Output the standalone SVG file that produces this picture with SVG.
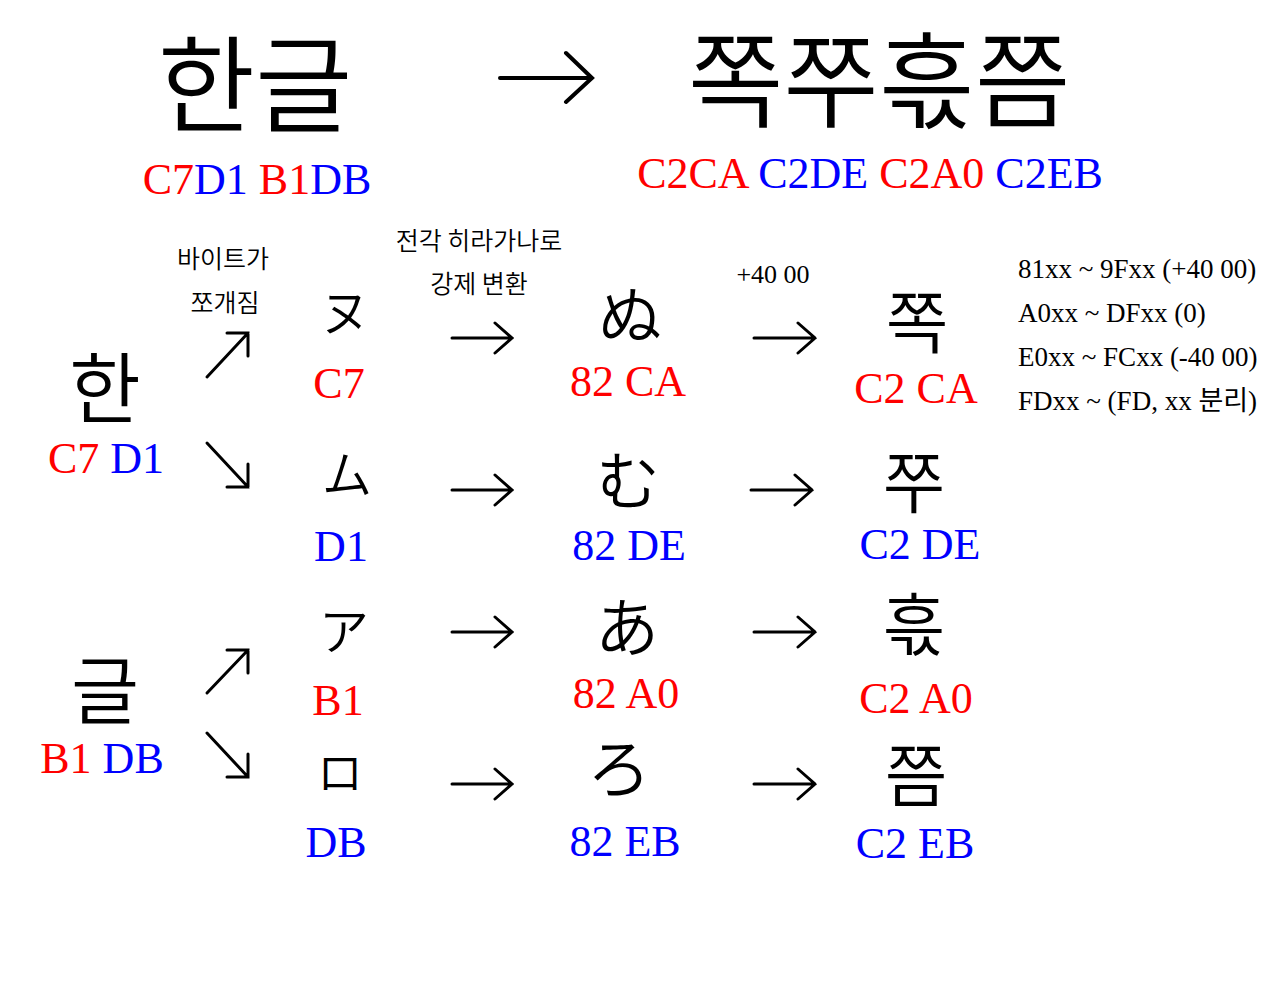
<svg xmlns="http://www.w3.org/2000/svg" width="1280" height="1000" viewBox="0 0 1280 1000">
<style>
.cjk{font-family:"Noto Sans CJK KR","Noto Sans CJK JP",sans-serif;font-weight:350;fill:#000;text-anchor:middle}
.lat{font-family:"Liberation Serif","Noto Sans CJK KR",serif;text-anchor:middle}
.hex{font-family:"Liberation Serif",serif;font-size:44px;text-anchor:middle}
.r{fill:#ff0000}
.b{fill:#0000ff}
.small{font-family:"Noto Sans CJK KR",sans-serif;font-size:25px;font-weight:350;fill:#000;text-anchor:middle}
.note{font-family:"Liberation Serif","Noto Sans CJK KR",serif;font-size:27px;fill:#000}
.arr{fill:none;stroke:#000;stroke-width:3;stroke-linecap:round;stroke-linejoin:miter}
.arrbig{fill:none;stroke:#000;stroke-width:4;stroke-linecap:round}
</style>
<rect width="1280" height="1000" fill="#fff"/>

<g id="title-source">
<text class="cjk" x="255" y="124" font-size="106">한글</text>
<text class="hex" x="257" y="194"><tspan class="r">C7</tspan><tspan class="b">D1</tspan> <tspan class="r">B1</tspan><tspan class="b">DB</tspan></text>
</g>
<g id="title-result">
<text class="cjk" x="879" y="120" font-size="104">쪽쭈흓쯤</text>
<text class="hex" x="870" y="188"><tspan class="r">C2CA</tspan> <tspan class="b">C2DE</tspan> <tspan class="r">C2A0</tspan> <tspan class="b">C2EB</tspan></text>
</g>

<g id="han">
<text class="cjk" x="105" y="418" font-size="78">한</text>
<text class="hex" x="106" y="473"><tspan class="r">C7</tspan> <tspan class="b">D1</tspan></text>
</g>
<g id="geul">
<text class="cjk" x="105" y="718" font-size="74">글</text>
<text class="hex" x="102" y="773"><tspan class="r">B1</tspan> <tspan class="b">DB</tspan></text>
</g>

<g id="labels">
<text class="small" x="223" y="268">바이트가</text>
<text class="small" x="225" y="312">쪼개짐</text>
<text class="small" x="479" y="250">전각 히라가나로</text>
<text class="small" x="479" y="293">강제 변환</text>
<text class="lat" x="773" y="283" font-size="26" fill="#000">+40 00</text>
</g>

<g id="kata-nu">
<text class="cjk" x="345" y="331" font-size="50">ヌ</text>
<text class="hex r" x="339" y="398">C7</text>
</g>
<g id="kata-mu">
<text class="cjk" x="347" y="493" font-size="50">ム</text>
<text class="hex b" x="341" y="561">D1</text>
</g>
<g id="kata-a">
<text class="cjk" x="344" y="650" font-size="50">ア</text>
<text class="hex r" x="338" y="715">B1</text>
</g>
<g id="kata-ro">
<text class="cjk" x="340" y="789" font-size="46">ロ</text>
<text class="hex b" x="336" y="857">DB</text>
</g>

<g id="hira-nu">
<text class="cjk" x="630" y="339" font-size="64">ぬ</text>
<text class="hex r" x="628" y="396">82 CA</text>
</g>
<g id="hira-mu">
<text class="cjk" x="628" y="504" font-size="64">む</text>
<text class="hex b" x="629" y="560">82 DE</text>
</g>
<g id="hira-a">
<text class="cjk" x="627" y="651" font-size="64">あ</text>
<text class="hex r" x="626" y="708">82 A0</text>
</g>
<g id="hira-ro">
<text class="cjk" x="619" y="792" font-size="64">ろ</text>
<text class="hex b" x="625" y="856">82 EB</text>
</g>

<g id="res-jjok">
<text class="cjk" x="917" y="348" font-size="68">쪽</text>
<text class="hex r" x="916" y="403">C2 CA</text>
</g>
<g id="res-jju">
<text class="cjk" x="914" y="508" font-size="68">쭈</text>
<text class="hex b" x="920" y="559">C2 DE</text>
</g>
<g id="res-heul">
<text class="cjk" x="914" y="650" font-size="68">흓</text>
<text class="hex r" x="916" y="713">C2 A0</text>
</g>
<g id="res-jjeum">
<text class="cjk" x="916" y="801" font-size="68">쯤</text>
<text class="hex b" x="915" y="858">C2 EB</text>
</g>

<g id="notes">
<text class="note" x="1018" y="278">81xx ~ 9Fxx (+40 00)</text>
<text class="note" x="1018" y="322">A0xx ~ DFxx (0)</text>
<text class="note" x="1018" y="366">E0xx ~ FCxx (-40 00)</text>
<text class="note" x="1018" y="410">FDxx ~ (FD, xx 분리)</text>
</g>

<g id="connectors">
<path class="arrbig" d="M500 78 H592 M566 53 L592 78 L566 102"/>
<path class="arr" d="M207 377 L248 333 M227 333 H248 V356"/>
<path class="arr" d="M207 443 L248 487 M227 487 H248 V464"/>
<path class="arr" d="M207 693 L248 650 M227 650 H248 V673"/>
<path class="arr" d="M207 733 L248 777 M227 777 H248 V754"/>
<path class="arr" d="M452 338 H512 M495 323 L512 338 L495 353"/>
<path class="arr" d="M452 490 H512 M495 475 L512 490 L495 505"/>
<path class="arr" d="M452 632 H512 M495 617 L512 632 L495 647"/>
<path class="arr" d="M452 784 H512 M495 769 L512 784 L495 799"/>
<path class="arr" d="M754 338 H815 M798 323 L815 338 L798 353"/>
<path class="arr" d="M751 490 H812 M795 475 L812 490 L795 505"/>
<path class="arr" d="M754 632 H815 M798 617 L815 632 L798 647"/>
<path class="arr" d="M754 784 H815 M798 769 L815 784 L798 799"/>
</g>
</svg>
